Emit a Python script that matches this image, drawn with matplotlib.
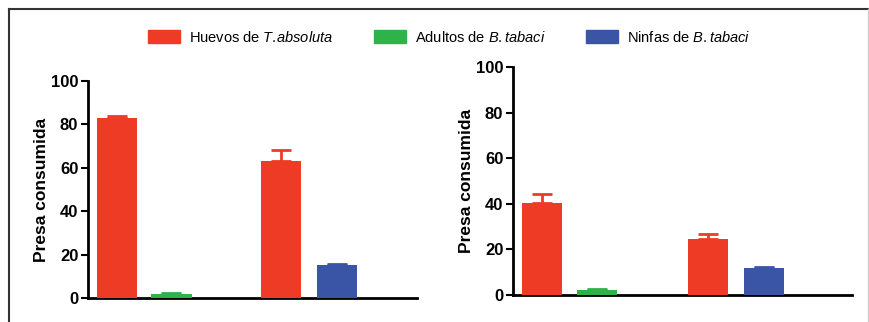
import numpy as np
import matplotlib
matplotlib.use("Agg")
import matplotlib.pyplot as plt
from matplotlib.patches import Patch
from matplotlib.lines import Line2D

plt.rcParams['font.family'] = ['Liberation Sans', 'DejaVu Sans']
plt.rcParams['mathtext.fontset'] = 'custom'
plt.rcParams['mathtext.it'] = 'Liberation Sans:italic'
plt.rcParams['mathtext.rm'] = 'Liberation Sans'

# data
series = ["Huevos de $\\it{T.\\!absoluta}$", "Adultos de $\\it{B.tabaci}$", "Ninfas de $\\it{B.tabaci}$"]
colors = ["#EE3B26", "#2DB34A", "#3A55A5"]

# bar order per panel: red, green, red, blue
bar_series = [0, 1, 0, 2]
left_vals = [83, 2, 63, 15]
left_err = [1, 0.5, 5, 0.5]
right_vals = [40.5, 2.3, 24.5, 11.8]
right_err = [3.7, 0.3, 2.2, 0.7]
yticks = [0, 20, 40, 60, 80, 100]

positions = [0.72, 2.08, 4.82, 6.2]

fig = plt.figure(figsize=(8.69, 3.22), dpi=100)

ax1 = fig.add_axes([88 / 869, 1 - 298 / 322, 329 / 869, 217 / 322])
ax2 = fig.add_axes([513 / 869, 1 - 295 / 322, 339 / 869, 228 / 322])


def draw(ax, vals, errs, xmax):
    for x, v, e, s in zip(positions, vals, errs, bar_series):
        c = colors[s]
        ax.bar(x, v, width=1.0, color=c, zorder=3)
        ax.errorbar(x, v, yerr=[[0], [e]], fmt='none', ecolor=c,
                    elinewidth=2, capsize=7, capthick=2, zorder=2)
    ax.set_xlim(0, xmax)
    ax.set_ylim(0, 100)
    ax.set_yticks(yticks)
    ax.set_xticks([])
    for sp in ['top', 'right']:
        ax.spines[sp].set_visible(False)
    for sp in ['left', 'bottom']:
        ax.spines[sp].set_linewidth(2)
    ax.tick_params(axis='y', length=5, width=1.5, direction='out', pad=2)
    for lab in ax.get_yticklabels():
        lab.set_fontsize(12)
        lab.set_fontweight('bold')
    ax.set_ylabel("Presa consumida", fontsize=12.5, fontweight='bold', labelpad=1)


draw(ax1, left_vals, left_err, 8.2)
draw(ax2, right_vals, right_err, 8.37)

handles = [Patch(facecolor=c, edgecolor=c) for c in colors]
fig.legend(handles, series, loc='center', bbox_to_anchor=(0.517, 1 - 37 / 322),
           ncol=3, frameon=False, fontsize=10.5, handlelength=2.2, handleheight=1.0,
           columnspacing=2.8, handletextpad=0.6)

# outer frame
fig.add_artist(Line2D([8.5 / 869, 1.0], [1 - 9 / 322, 1 - 9 / 322], color='#333333', lw=1.5))
fig.add_artist(Line2D([8.5 / 869, 8.5 / 869], [0, 1 - 9 / 322], color='#333333', lw=1.5))
fig.add_artist(Line2D([867.5 / 869, 867.5 / 869], [0, 1 - 9 / 322], color='#cccccc', lw=1.0))

fig.savefig("out.png", dpi=100)
